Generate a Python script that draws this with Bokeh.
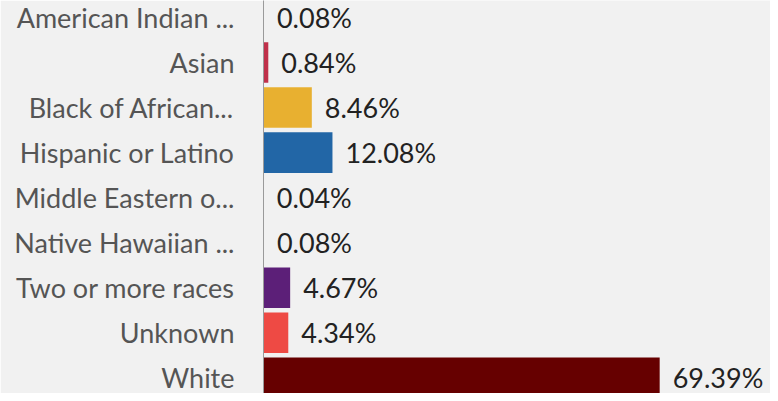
from bokeh.plotting import figure
from bokeh.models import ColumnDataSource, Range1d, FixedTicker
from bokeh.core.properties import value
from bokeh.embed import file_html
from bokeh.resources import INLINE

categories = ["American Indian ...", "Asian", "Black of African...", "Hispanic or Latino",
              "Middle Eastern o...", "Native Hawaiian ...", "Two or more races", "Unknown", "White"]
values = [0.08, 0.84, 8.46, 12.08, 0.04, 0.08, 4.67, 4.34, 69.39]
colors = ["#5b7bb0", "#c0304a", "#e8b030", "#2266a6", "#b8c8d8", "#e8a0a0",
          "#5c1f78", "#ee4a44", "#660000"]
value_labels = ["0.08%", "0.84%", "8.46%", "12.08%", "0.04%", "0.08%", "4.67%", "4.34%", "69.39%"]

pos = list(range(len(categories)))
src = ColumnDataSource(dict(y=pos, v=values, c=colors, lab=value_labels))

BG = "#f1f1f1"
p = figure(width=770, height=393, output_backend="svg", toolbar_location=None,
           x_range=Range1d(0, 88.8), y_range=Range1d(8.347, -0.377),
           min_border_left=263, min_border_right=0, min_border_top=0, min_border_bottom=0)
p.background_fill_color = BG
p.border_fill_color = BG
p.outline_line_color = None
p.grid.visible = False
p.xaxis.visible = False

p.hbar(y="y", right="v", left=0, height=0.9, fill_color="c", line_color=None, source=src)
p.text(x="v", y="y", text="lab", source=src, x_offset=13, text_baseline="middle",
       text_font=value("Lato"), text_font_size="27px", text_color="#222222")

ya = p.yaxis[0]
ya.ticker = FixedTicker(ticks=pos)
ya.major_label_overrides = {i: c for i, c in zip(pos, categories)}
ya.major_tick_line_color = None
ya.minor_tick_line_color = None
ya.axis_line_color = "#9a9a9a"
ya.major_label_standoff = 23
ya.major_label_text_font = "Lato"
ya.major_label_text_font_size = "27px"
ya.major_label_text_color = "#555555"

open("out.html", "w").write(file_html(p, INLINE))
